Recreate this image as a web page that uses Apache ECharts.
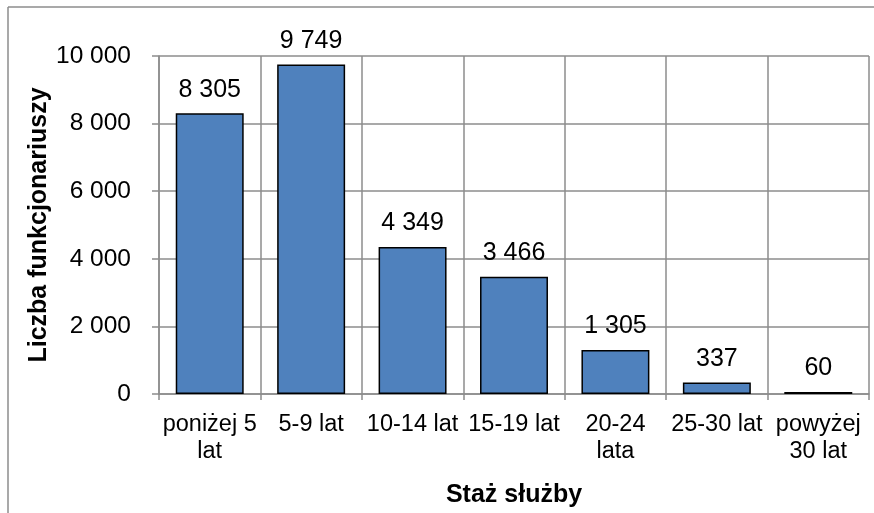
<!DOCTYPE html>
<html>
<head>
<meta charset="utf-8">
<script src="https://cdn.jsdelivr.net/npm/echarts@6/dist/echarts.min.js"></script>
<style>
  html, body { margin: 0; padding: 0; background: #fff; }
  #chart { width: 874px; height: 513px; }
</style>
</head>
<body>
<div id="chart"></div>
<script>
const categories = ['poniżej 5\nlat', '5-9 lat', '10-14 lat', '15-19 lat', '20-24\nlata', '25-30 lat', 'powyżej\n30 lat']
const values = [8305, 9749, 4349, 3466, 1305, 337, 60]
const yTicks = { min: 0, max: 10000, interval: 2000 }

const fmt = (v) => String(v).replace(/\B(?=(\d{3})+(?!\d))/g, ' ')
const font = 'Liberation Sans, Arial, sans-serif'
const gridColor = '#8c8c8c'

const chart = echarts.init(document.getElementById('chart'))

chart.setOption({
  backgroundColor: '#fff',
  animation: false,
  grid: { left: 159, right: 5, top: 56, bottom: 118 },
  graphic: [
    { type: 'line', shape: { x1: 8, y1: 7, x2: 874, y2: 7 }, style: { stroke: '#8c8c8c', lineWidth: 1.5 } },
    { type: 'line', shape: { x1: 8, y1: 7, x2: 8, y2: 513 }, style: { stroke: '#8c8c8c', lineWidth: 1.5 } }
  ],
  xAxis: {
    type: 'category',
    data: categories,
    name: 'Staż służby',
    nameLocation: 'middle',
    nameGap: 89,
    nameMoveOverlap: false,
    nameTextStyle: { fontFamily: font, fontSize: 25, fontWeight: 'bold', color: '#000' },
    axisLine: { lineStyle: { color: gridColor, width: 1.5 } },
    axisTick: { show: true, length: 6, lineStyle: { color: gridColor, width: 1.5 } },
    axisLabel: { fontFamily: font, fontSize: 23.5, color: '#000', lineHeight: 27, margin: 17, interval: 0 },
    splitLine: { show: true, lineStyle: { color: gridColor, width: 1.5 } }
  },
  yAxis: {
    type: 'value',
    min: yTicks.min,
    max: yTicks.max,
    interval: yTicks.interval,
    name: 'Liczba funkcjonariuszy',
    nameLocation: 'middle',
    nameGap: 107,
    nameMoveOverlap: false,
    nameTextStyle: { fontFamily: font, fontSize: 25, fontWeight: 'bold', color: '#000' },
    axisLine: { show: true, lineStyle: { color: gridColor, width: 1.5 } },
    axisTick: { show: true, length: 7, lineStyle: { color: gridColor, width: 1.5 } },
    axisLabel: { fontFamily: font, fontSize: 24.5, color: '#000', margin: 28, formatter: fmt },
    splitLine: { lineStyle: { color: gridColor, width: 1.5 } }
  },
  series: [
    {
      type: 'bar',
      data: values,
      barCategoryGap: '33%',
      itemStyle: { color: '#4f81bd', borderColor: '#000', borderWidth: 1.5 },
      label: {
        show: true,
        position: 'top',
        distance: 11,
        fontFamily: font,
        fontSize: 25,
        color: '#000',
        formatter: (p) => fmt(p.value)
      }
    }
  ]
})
</script>
</body>
</html>
